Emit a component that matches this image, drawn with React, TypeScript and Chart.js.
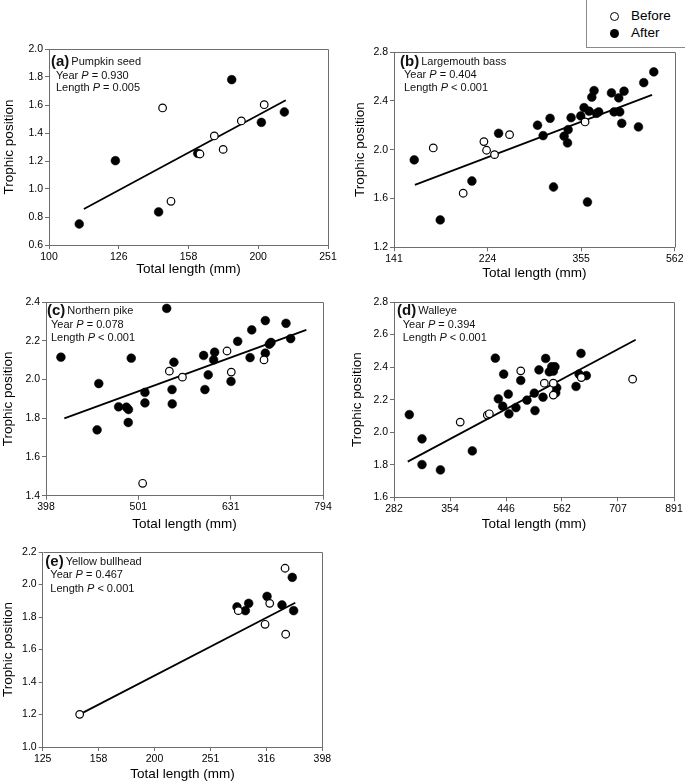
import React, { useEffect, useRef } from 'react';
import { Chart, registerables } from 'chart.js';

Chart.register(...registerables);

const FONT = "'Liberation Sans', Arial, Helvetica, sans-serif";
const AXIS = '#6e6e6e';

// ---------- (a) Pumpkin seed ----------
const aBeforeLength = [145.5, 149.6, 164.6, 172.6, 177.7, 188.7, 203.5];
const aBeforeTP = [1.579, 0.912, 1.25, 1.379, 1.283, 1.486, 1.602];
const aAfterLength = [110.5, 124.5, 143.6, 163.4, 182.8, 201.6, 217.5];
const aAfterTP = [0.75, 1.202, 0.836, 1.255, 1.781, 1.476, 1.55];
const aFitLength = [112.2, 218.5];
const aFitTP = [0.857, 1.634];
const aXTicks = [100, 125.9, 158.5, 199.5, 251.2];
const aXTickLabels = ['100', '126', '158', '200', '251'];
const aYTicks = [0.6, 0.8, 1.0, 1.2, 1.4, 1.6, 1.8, 2.0];

// ---------- (b) Largemouth bass ----------
const bBeforeLength = [171.4, 198.6, 219.9, 222.8, 231.7, 249.5, 361.7];
const bBeforeTP = [2.014, 1.643, 2.066, 1.995, 1.959, 2.123, 2.227];
const bAfterLength = [156.1, 177.4, 207.3, 236.4, 286.3, 294.3, 304.5, 309.7, 326.3, 331.8, 332.8, 337.7, 354.1, 359.9, 366, 369, 373.9, 378.1, 382.6, 386.9, 411.9, 417.2, 426.9, 429, 433.3, 438.2, 470.4, 482.8, 507.2];
const bAfterTP = [1.916, 1.424, 1.743, 2.134, 2.2, 2.115, 2.257, 1.694, 2.11, 2.055, 2.164, 2.262, 2.276, 2.344, 1.571, 2.315, 2.43, 2.484, 2.298, 2.309, 2.465, 2.309, 2.424, 2.309, 2.216, 2.479, 2.186, 2.549, 2.637];
const bFitLength = [156.6, 502.9];
const bFitTP = [1.711, 2.448];
const bXTicks = [141.3, 223.9, 354.8, 562.3];
const bXTickLabels = ['141', '224', '355', '562'];
const bYTicks = [1.2, 1.6, 2.0, 2.4, 2.8];

// ---------- (c) Northern pike ----------
const cBeforeLength = [506.6, 541.5, 559.4, 625.2, 631.9, 685.6];
const cBeforeTP = [1.464, 2.043, 2.012, 2.147, 2.038, 2.101];
const cAfterLength = [413.2, 454.1, 452.2, 477.1, 486.5, 489.0, 488.7, 492.4, 509.5, 509.5, 537.9, 545.1, 545.4, 547.7, 589.8, 591.7, 596.6, 604.7, 606.2, 631.5, 642.1, 662.2, 665.0, 687.9, 687.9, 694.8, 697.7, 724.3, 732.8];
const cAfterTP = [2.115, 1.979, 1.74, 1.859, 1.857, 1.845, 1.778, 2.11, 1.933, 1.879, 2.367, 1.948, 1.874, 2.089, 2.124, 1.948, 2.024, 2.101, 2.141, 1.99, 2.197, 2.113, 2.256, 2.304, 2.136, 2.182, 2.191, 2.29, 2.211];
const cFitLength = [416.7, 762];
const cFitTP = [1.799, 2.256];
const cXTicks = [398.1, 501.2, 631.0, 794.3];
const cXTickLabels = ['398', '501', '631', '794'];
const cYTicks = [1.4, 1.6, 1.8, 2.0, 2.2, 2.4];

// ---------- (d) Walleye ----------
const dBeforeLength = [370, 413.6, 417.1, 474.6, 522.9, 542.6, 542.6, 608.9, 751.8];
const dBeforeTP = [2.062, 2.105, 2.113, 2.377, 2.301, 2.301, 2.228, 2.336, 2.326];
const dAfterLength = [300.1, 316.2, 316.2, 341.1, 388.9, 427.5, 432.8, 440.6, 442.4, 450.9, 452.1, 465.3, 474.6, 486.9, 501.8, 503.2, 511.5, 520.1, 525.8, 533.7, 539, 542.6, 546.3, 548, 550.2, 595.7, 603.1, 608, 621.5];
const dAfterTP = [2.108, 1.959, 1.801, 1.768, 1.885, 2.455, 2.205, 2.16, 2.357, 2.234, 2.113, 2.151, 2.318, 2.197, 2.24, 2.133, 2.383, 2.215, 2.453, 2.371, 2.402, 2.375, 2.402, 2.242, 2.273, 2.281, 2.357, 2.484, 2.348];
const dFitLength = [298.2, 761.3];
const dFitTP = [1.819, 2.568];
const dXTicks = [281.8, 354.8, 446.7, 562.3, 707.9, 891.3];
const dXTickLabels = ['282', '354', '446', '562', '707', '891'];
const dYTicks = [1.6, 1.8, 2.0, 2.2, 2.4, 2.6, 2.8];

// ---------- (e) Yellow bullhead ----------
const eBeforeLength = [146.6, 281.7, 314.5, 320.6, 341.5, 342.4];
const eBeforeTP = [1.201, 1.839, 1.755, 1.884, 2.1, 1.694];
const eAfterLength = [280.2, 290, 294, 317.1, 337.2, 351.8, 353.8];
const eAfterTP = [1.862, 1.839, 1.884, 1.927, 1.874, 2.044, 1.839];
const eFitLength = [146.6, 356.2];
const eFitTP = [1.201, 1.888];
const eXTicks = [125.9, 158.5, 199.5, 251.2, 316.2, 398.1];
const eXTickLabels = ['125', '158', '200', '251', '316', '398'];
const eYTicks = [1.0, 1.2, 1.4, 1.6, 1.8, 2.0, 2.2];

type PanelCfg = {
  label: string;
  name: string;
  yearP: string;
  lengthP: string;
  beforeX: number[];
  beforeY: number[];
  afterX: number[];
  afterY: number[];
  fitX: number[];
  fitY: number[];
  xTicks: number[];
  xTickLabels: string[];
  yTicks: number[];
  box: { left: number; top: number; width: number; height: number };
  pad: { top: number; left: number; right: number; bottom: number };
  yW: number;
  xH: number;
  txt: { lx: number; tx: number; y1: number; y2: number; y3: number };
};

const panels: PanelCfg[] = [
  {
    label: '(a)', name: 'Pumpkin seed', yearP: ' = 0.930', lengthP: ' = 0.005',
    beforeX: aBeforeLength, beforeY: aBeforeTP, afterX: aAfterLength, afterY: aAfterTP,
    fitX: aFitLength, fitY: aFitTP, xTicks: aXTicks, xTickLabels: aXTickLabels, yTicks: aYTicks,
    box: { left: 0, top: 0, width: 340, height: 290 },
    pad: { top: 49, left: 1.2, right: 12, bottom: 12.6 }, yW: 47.8, xH: 32.4,
    txt: { lx: 2, tx: 7, y1: 12.7, y2: 26.7, y3: 39.3 },
  },
  {
    label: '(b)', name: 'Largemouth bass', yearP: ' = 0.404', lengthP: ' < 0.001',
    beforeX: bBeforeLength, beforeY: bBeforeTP, afterX: bAfterLength, afterY: bAfterTP,
    fitX: bFitLength, fitY: bFitTP, xTicks: bXTicks, xTickLabels: bXTickLabels, yTicks: bYTicks,
    box: { left: 340, top: 0, width: 345, height: 290 },
    pad: { top: 52, left: 12.6, right: 10, bottom: 8.6 }, yW: 41.4, xH: 34.1,
    txt: { lx: 6, tx: 10, y1: 10, y2: 22.7, y3: 36 },
  },
  {
    label: '(c)', name: 'Northern pike', yearP: ' = 0.078', lengthP: ' < 0.001',
    beforeX: cBeforeLength, beforeY: cBeforeTP, afterX: cAfterLength, afterY: cAfterTP,
    fitX: cFitLength, fitY: cFitTP, xTicks: cXTicks, xTickLabels: cXTickLabels, yTicks: cYTicks,
    box: { left: 0, top: 290, width: 340, height: 245 },
    pad: { top: 12, left: 0.2, right: 17, bottom: 2.9 }, yW: 45.8, xH: 36.4,
    txt: { lx: 1, tx: 5, y1: 9.3, y2: 22.7, y3: 36 },
  },
  {
    label: '(d)', name: 'Walleye', yearP: ' = 0.394', lengthP: ' < 0.001',
    beforeX: dBeforeLength, beforeY: dBeforeTP, afterX: dAfterLength, afterY: dAfterTP,
    fitX: dFitLength, fitY: dFitTP, xTicks: dXTicks, xTickLabels: dXTickLabels, yTicks: dYTicks,
    box: { left: 340, top: 290, width: 345, height: 245 },
    pad: { top: 12, left: 9.2, right: 11, bottom: 2.9 }, yW: 44.8, xH: 34.8,
    txt: { lx: 3, tx: 8.7, y1: 9.3, y2: 22.7, y3: 36 },
  },
  {
    label: '(e)', name: 'Yellow bullhead', yearP: ' = 0.467', lengthP: ' < 0.001',
    beforeX: eBeforeLength, beforeY: eBeforeTP, afterX: eAfterLength, afterY: eAfterTP,
    fitX: eFitLength, fitY: eFitTP, xTicks: eXTicks, xTickLabels: eXTickLabels, yTicks: eYTicks,
    box: { left: 0, top: 535, width: 340, height: 248 },
    pad: { top: 17, left: 0, right: 17.7, bottom: 0.9 }, yW: 42.7, xH: 35.1,
    txt: { lx: 2.6, tx: 7.6, y1: 10, y2: 23.3, y3: 37 },
  },
];

function pts(x: number[], y: number[]) {
  return x.map((v, i) => ({ x: v, y: y[i] }));
}

function drawParts(ctx: CanvasRenderingContext2D, x: number, y: number, parts: { t: string; f: string; gap?: number }[]) {
  let cx = x;
  for (const p of parts) {
    ctx.font = p.f;
    ctx.fillText(p.t, cx, y);
    cx += ctx.measureText(p.t).width + (p.gap || 0);
  }
}

function PanelChart({ p }: { p: PanelCfg }) {
  const ref = useRef<HTMLCanvasElement | null>(null);
  useEffect(() => {
    const canvas = ref.current;
    if (!canvas) return;
    const deco = {
      id: 'deco',
      afterDraw(chart: any) {
        const { ctx, chartArea: a } = chart;
        ctx.save();
        // frame (top + right)
        ctx.strokeStyle = AXIS;
        ctx.lineWidth = 1;
        const l = Math.round(a.left) + 0.5;
        const t = Math.round(a.top) + 0.5;
        const r = Math.round(a.right) + 0.5;
        const b = Math.round(a.bottom) + 0.5;
        ctx.beginPath();
        ctx.moveTo(l, t);
        ctx.lineTo(r, t);
        ctx.lineTo(r, b);
        ctx.stroke();
        // annotation text
        ctx.fillStyle = '#111';
        ctx.textBaseline = 'middle';
        ctx.textAlign = 'left';
        drawParts(ctx, a.left + p.txt.lx, a.top + p.txt.y1, [
          { t: p.label, f: `bold 15px ${FONT}`, gap: 2 },
          { t: p.name, f: `11px ${FONT}` },
        ]);
        drawParts(ctx, a.left + p.txt.tx, a.top + p.txt.y2, [
          { t: 'Year ', f: `11px ${FONT}` },
          { t: 'P', f: `italic 11px ${FONT}` },
          { t: p.yearP, f: `11px ${FONT}` },
        ]);
        drawParts(ctx, a.left + p.txt.tx, a.top + p.txt.y3, [
          { t: 'Length ', f: `11px ${FONT}` },
          { t: 'P', f: `italic 11px ${FONT}` },
          { t: p.lengthP, f: `11px ${FONT}` },
        ]);
        ctx.restore();
      },
    };
    const chart = new Chart(canvas, {
      type: 'scatter',
      data: {
        datasets: [
          {
            label: 'Before',
            data: pts(p.beforeX, p.beforeY),
            pointRadius: 3.8,
            pointBorderWidth: 1.2,
            pointBackgroundColor: '#ffffff',
            pointBorderColor: '#000000',
            backgroundColor: '#ffffff',
            borderColor: '#000000',
          },
          {
            label: 'After',
            data: pts(p.afterX, p.afterY),
            pointRadius: 4.4,
            pointBorderWidth: 0.5,
            pointBackgroundColor: '#000000',
            pointBorderColor: '#000000',
            backgroundColor: '#000000',
            borderColor: '#000000',
          },
          {
            label: 'Fit',
            data: pts(p.fitX, p.fitY),
            showLine: true,
            pointRadius: 0,
            borderColor: '#000000',
            borderWidth: 1.8,
            fill: false,
          } as any,
        ],
      },
      options: {
        animation: false,
        responsive: false,
        devicePixelRatio: 1,
        events: [],
        layout: { padding: p.pad },
        plugins: { legend: { display: false }, tooltip: { enabled: false } },
        scales: {
          x: {
            type: 'logarithmic',
            position: 'bottom',
            bounds: 'data',
            min: p.xTicks[0],
            max: p.xTicks[p.xTicks.length - 1],
            afterBuildTicks: (s: any) => {
              s.ticks = p.xTicks.map((v) => ({ value: v }));
            },
            afterFit: (s: any) => {
              s.height = p.xH;
            },
            ticks: {
              autoSkip: false,
              maxRotation: 0,
              minRotation: 0,
              padding: 1.5,
              color: '#000',
              font: { family: FONT, size: 10.5 },
              callback: (_v: any, i: number) => p.xTickLabels[i],
            },
            grid: { display: true, drawOnChartArea: false, drawTicks: true, tickLength: 4, color: AXIS, lineWidth: 1 },
            border: { display: true, color: AXIS, width: 1 },
            title: {
              display: true,
              text: 'Total length (mm)',
              color: '#000',
              font: { family: FONT, size: 13.5, lineHeight: 1.2 },
              padding: { top: 0, bottom: 0 },
            },
          } as any,
          y: {
            type: 'linear',
            position: 'left',
            min: p.yTicks[0],
            max: p.yTicks[p.yTicks.length - 1],
            afterBuildTicks: (s: any) => {
              s.ticks = p.yTicks.map((v) => ({ value: v }));
            },
            afterFit: (s: any) => {
              s.width = p.yW;
            },
            ticks: {
              autoSkip: false,
              padding: 2,
              color: '#000',
              font: { family: FONT, size: 10.5 },
              callback: (v: any) => Number(v).toFixed(1),
            },
            grid: { display: true, drawOnChartArea: false, drawTicks: true, tickLength: 4, color: AXIS, lineWidth: 1 },
            border: { display: true, color: AXIS, width: 1 },
            title: {
              display: true,
              text: 'Trophic position',
              color: '#000',
              font: { family: FONT, size: 13.5, lineHeight: 1.2 },
              padding: { top: 0, bottom: 0 },
            },
          } as any,
        },
      },
      plugins: [deco],
    });
    return () => chart.destroy();
  }, [p]);

  return (
    <canvas
      ref={ref}
      width={p.box.width}
      height={p.box.height}
      style={{
        position: 'absolute',
        left: p.box.left,
        top: p.box.top,
        width: p.box.width,
        height: p.box.height,
      }}
    />
  );
}

function Legend() {
  const dot = (filled: boolean, top: number) => (
    <div
      style={{
        position: 'absolute',
        left: 23,
        top: top,
        width: filled ? 9 : 7,
        height: filled ? 9 : 7,
        borderRadius: '50%',
        background: filled ? '#000' : '#fff',
        border: filled ? 'none' : '1.2px solid #000',
        boxSizing: 'content-box',
      }}
    />
  );
  const label = (text: string, top: number) => (
    <div
      style={{
        position: 'absolute',
        left: 44,
        top: top,
        fontFamily: FONT,
        fontSize: 13.5,
        lineHeight: '16px',
        color: '#000',
        whiteSpace: 'nowrap',
      }}
    >
      {text}
    </div>
  );
  return (
    <div
      style={{
        position: 'absolute',
        left: 586,
        top: -1,
        width: 101,
        height: 49,
        border: '1px solid #8a8a8a',
        boxSizing: 'border-box',
        background: '#fff',
      }}
    >
      {dot(false, 11.5)}
      {label('Before', 8)}
      {dot(true, 28.5)}
      {label('After', 25)}
    </div>
  );
}

export default function App() {
  return (
    <div
      style={{
        position: 'absolute',
        left: 0,
        top: 0,
        width: 685,
        height: 783,
        background: '#fff',
        overflow: 'hidden',
      }}
    >
      {panels.map((p, i) => (
        <PanelChart key={i} p={p} />
      ))}
      <Legend />
    </div>
  );
}
